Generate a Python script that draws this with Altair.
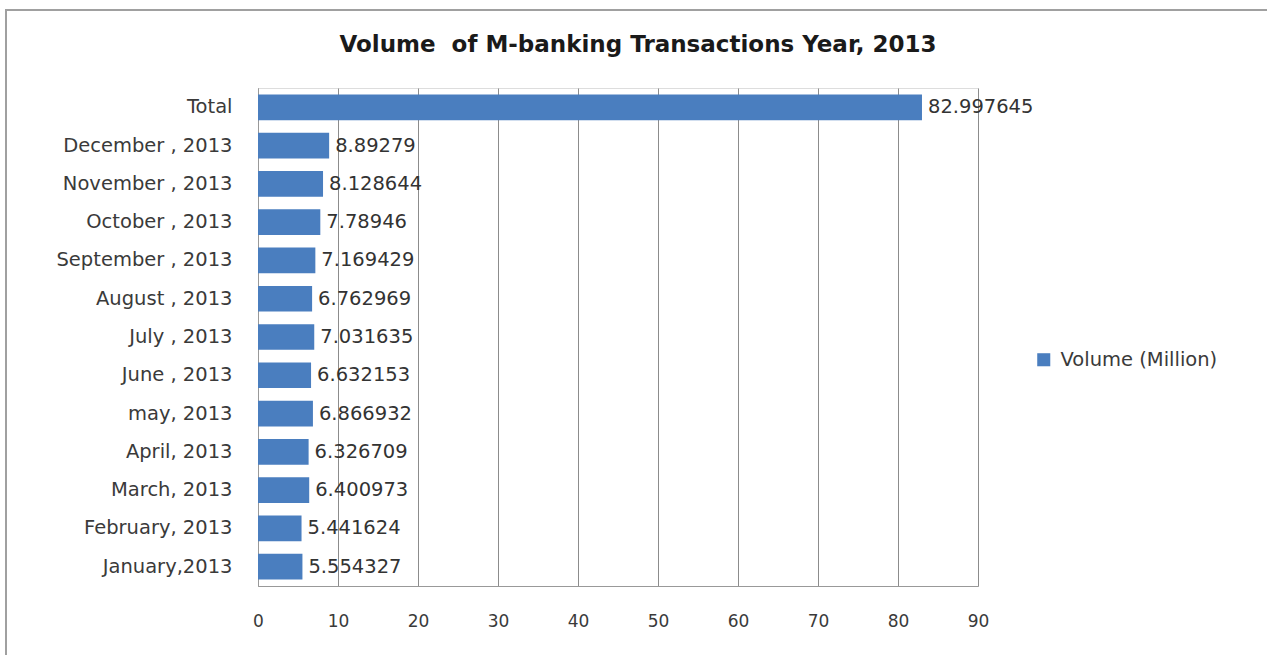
import altair as alt
import pandas as pd

categories = ["Total", "December , 2013", "November , 2013", "October , 2013",
              "September , 2013", "August , 2013", "July , 2013", "June , 2013",
              "may, 2013", "April, 2013", "March, 2013", "February, 2013", "January,2013"]
values = [82.997645, 8.89279, 8.128644, 7.78946, 7.169429, 6.762969, 7.031635,
          6.632153, 6.866932, 6.326709, 6.400973, 5.441624, 5.554327]
labels = ["82.997645", "8.89279", "8.128644", "7.78946", "7.169429", "6.762969",
          "7.031635", "6.632153", "6.866932", "6.326709", "6.400973", "5.441624", "5.554327"]
series = "Volume (Million)"
x_ticks = [0, 10, 20, 30, 40, 50, 60, 70, 80, 90]
title_text = "Volume\u00a0 of M-banking Transactions Year, 2013"

df = pd.DataFrame({"cat": categories, "val": values, "lab": labels, "series": series})

FONT = "DejaVu Sans"
FS = 19.5

y_enc = alt.Y("cat:N", sort=categories, title=None,
              scale=alt.Scale(paddingInner=0.33, paddingOuter=0.17),
              axis=alt.Axis(labelFontSize=FS, labelColor="#3a3a3a", labelFont=FONT,
                            labelPadding=26, ticks=False, domain=True,
                            domainColor="#999999", grid=False))
x_enc = alt.X("val:Q", title=None,
              scale=alt.Scale(domain=[0, 90], nice=False),
              axis=alt.Axis(values=x_ticks, labelFontSize=17, labelColor="#3a3a3a",
                            labelFont=FONT, labelPadding=27, labelFlush=False, ticks=False,
                            domainColor="#999999", grid=True, gridColor="#8c8c8c",
                            gridWidth=1))

bars = alt.Chart(df).mark_bar(color="#4A7EBF").encode(
    x=x_enc, y=y_enc,
    color=alt.Color("series:N", scale=alt.Scale(range=["#4A7EBF"]),
                    legend=alt.Legend(title=None, orient="none", legendX=776, legendY=262,
                                      labelFontSize=FS, labelFont=FONT, labelColor="#3a3a3a",
                                      symbolType="square", symbolSize=170, labelOffset=7,
                                      symbolStrokeWidth=0)))

text = alt.Chart(df).mark_text(align="left", baseline="middle", dx=6, fontSize=FS,
                               font=FONT, color="#333333").encode(
    x="val:Q", y=alt.Y("cat:N", sort=categories), text="lab:N")

frame = alt.Chart(df).mark_rect(fill=None, stroke="#a0a0a0", strokeWidth=2).encode(
    x=alt.value(-252), x2=alt.value(1020), y=alt.value(-78), y2=alt.value(575))

chart = alt.layer(frame, bars, text).properties(
    width=720, height=498,
    autosize=alt.AutoSizeParams(type="none"),
    padding={"left": 258, "top": 88, "right": 289, "bottom": 69},
    title=alt.TitleParams(title_text, fontSize=23,
                          font=FONT, fontWeight="bold", color="#1a1a1a",
                          anchor="middle", frame="group", dx=20, offset=-48),
).configure_view(stroke="#8c8c8c", strokeWidth=1).configure(background="white")

chart.save("out.html", embed_options={"renderer": "svg", "actions": False})
